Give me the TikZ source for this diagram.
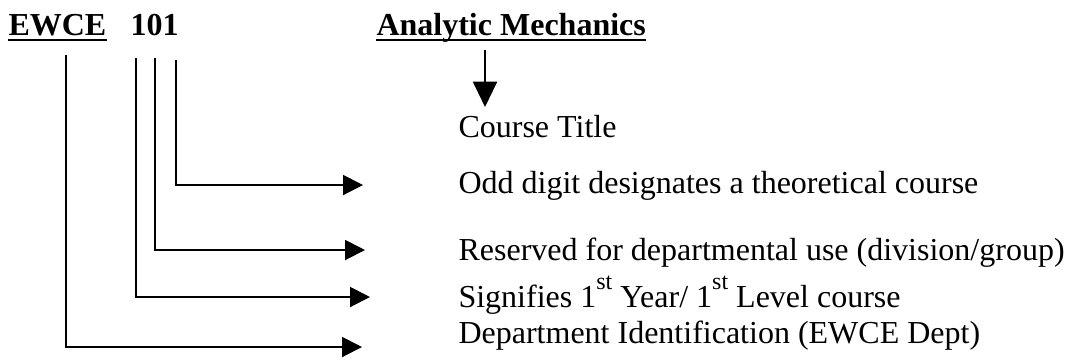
\documentclass[tikz,border=0pt]{standalone}
\usepackage{fontspec}
\setmainfont{Liberation Serif}
\usetikzlibrary{arrows.meta}
\newcommand{\ordsup}[1]{\raisebox{0.55em}{\fontsize{9}{9}\selectfont #1}}
\tikzset{
  lbl/.style={anchor=base west, inner sep=0pt},
  ttl/.style={anchor=base west, inner sep=0pt, font=\fontsize{12}{14}\selectfont\bfseries},
  lead/.style={line width=0.75pt, -{Triangle[length=7.5pt,width=7.5pt]}},
  uline/.style={line width=0.75pt},
}
\begin{document}
\begin{tikzpicture}[x=0.375pt,y=-0.375pt,font=\fontsize{12}{14}\selectfont]
  \useasboundingbox (0,0) rectangle (1068,363);

  % course code
  \path (8,35) node[ttl] (dept) {EWCE};
  \path (130,35) node[ttl] (num) {101};
  \path (376,35) node[ttl] (title) {Analytic Mechanics};
  \draw[uline] ([yshift=-1.7pt]dept.base west) -- ([yshift=-1.7pt]dept.base east);
  \draw[uline] ([yshift=-1.7pt]title.base west) -- ([yshift=-1.7pt]title.base east);

  % meanings
  \path (458,137) node[lbl] (ctitle) {Course Title};
  \path (458,193) node[lbl] (odd) {Odd digit designates a theoretical course};
  \path (458,260) node[lbl] (resv) {Reserved for departmental use (division/group)};
  \path (458,307) node[lbl] (year) {Signifies 1\ordsup{st} Year/ 1\ordsup{st} Level course};
  \path (458,343) node[lbl] (ident) {Department Identification (EWCE Dept)};

  % title arrow
  \coordinate (t0) at (485,50);
  \coordinate (t1) at (485,107);
  \draw[line width=0.75pt, -{Triangle[length=9.5pt,width=9pt]}] (t0) -- (t1);

  % leaders
  \coordinate (d0) at (66,55);
  \coordinate (d1) at (362,347);
  \coordinate (y0) at (136,58);
  \coordinate (y1) at (370,297);
  \coordinate (r0) at (155,58);
  \coordinate (r1) at (365,250);
  \coordinate (o0) at (176,60);
  \coordinate (o1) at (363,185);
  \draw[lead] (o0) |- (o1);
  \draw[lead] (r0) |- (r1);
  \draw[lead] (y0) |- (y1);
  \draw[lead] (d0) |- (d1);
\end{tikzpicture}
\end{document}
